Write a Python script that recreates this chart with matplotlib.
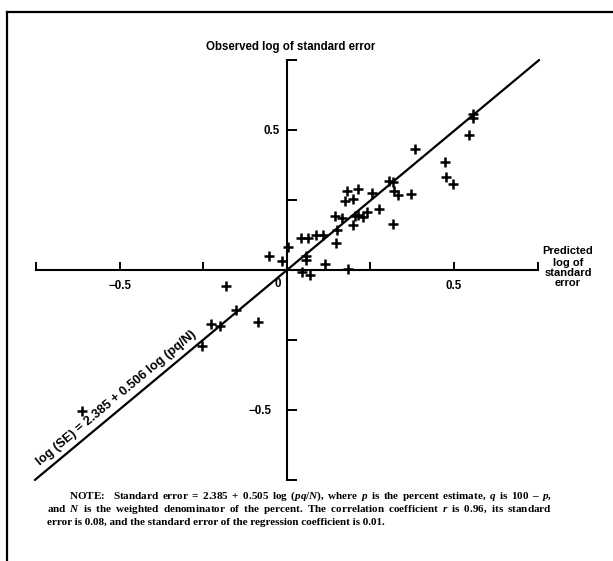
import numpy as np
import matplotlib
matplotlib.use("Agg")
import matplotlib.pyplot as plt
from matplotlib.lines import Line2D
from matplotlib import transforms

plt.rcParams["mathtext.fontset"] = "custom"
plt.rcParams["mathtext.it"] = "Liberation Serif:style=italic:weight=bold"
plt.rcParams["mathtext.rm"] = "Liberation Serif:weight=bold"
plt.rcParams["mathtext.bf"] = "Liberation Serif:weight=bold"

# ---------------- data ----------------
pred_x = [-0.053, -0.014, 0.002, 0.041, 0.062, 0.087, 0.107, 0.056, 0.056, 0.045,
          0.070, 0.115, 0.147, 0.150, 0.144, 0.166, 0.174, 0.198, 0.181, 0.213,
          0.254, 0.199, 0.204, 0.214, 0.229, 0.241, 0.276, 0.184, 0.317, 0.306,
          0.318, 0.320, 0.331, 0.370, 0.383, 0.556, 0.556, 0.546, 0.473, 0.477,
          0.498, -0.182, -0.153, -0.227, -0.200, -0.088, -0.254, -0.613]
obs_y = [0.050, 0.032, 0.083, 0.114, 0.115, 0.124, 0.124, 0.050, 0.036, -0.007,
         -0.019, 0.021, 0.095, 0.142, 0.194, 0.187, 0.246, 0.255, 0.283, 0.288,
         0.274, 0.162, 0.193, 0.195, 0.190, 0.207, 0.217, 0.004, 0.164, 0.319,
         0.314, 0.282, 0.267, 0.271, 0.433, 0.557, 0.544, 0.482, 0.386, 0.332,
         0.307, -0.056, -0.143, -0.193, -0.200, -0.187, -0.271, -0.502]
fit_x = np.array([-0.755, 0.755])
fit_y = np.array([-0.750, 0.750])

tick_vals = [-0.75, -0.5, -0.25, 0.25, 0.5, 0.75]
tick_text = ["", "\u22120.5", "", "", "0.5", ""]

title_text = "Observed log of standard error"
xlabel_lines = ["Predicted", "log of", "standard", "error"]
fit_label = "log (SE) = 2.385 + 0.506 log (pq/N)"
note_lines = [
    "NOTE:  Standard error = 2.385 + 0.505 log (*pq/N*), where *p* is the percent estimate, *q* is 100 \u2013 *p*,",
    "and *N* is the weighted denominator of the percent. The correlation coefficient *r* is 0.96, its standard",
    "error is 0.08, and the standard error of the regression coefficient is 0.01.",
]

# ---------------- figure ----------------
W, H = 613, 561
fig = plt.figure(figsize=(W / 100, H / 100), dpi=100)
fig.patch.set_facecolor("white")
ax = fig.add_axes([0, 0, 1, 1])
ax.set_facecolor("none")

X0, XS = 287.0, 334.0   # pixel of x=0, px per unit
Y0, YS = 270.0, 280.0
ax.set_xlim((0 - X0) / XS, (W - X0) / XS)
ax.set_ylim((Y0 - H) / YS, (Y0 - 0) / YS)

sans = ["Liberation Sans", "DejaVu Sans"]
serif = ["Liberation Serif", "DejaVu Serif"]

for s in ["top", "right"]:
    ax.spines[s].set_visible(False)
for s in ["left", "bottom"]:
    ax.spines[s].set_position(("data", 0))
    ax.spines[s].set_bounds(-0.75, 0.75)
    ax.spines[s].set_linewidth(1.5)
    ax.spines[s].set_color("black")

ax.set_xticks(tick_vals)
ax.set_xticklabels(tick_text)
ax.set_yticks(tick_vals)
ax.set_yticklabels(tick_text)
ax.tick_params(axis="x", direction="in", length=6, width=1.4, pad=7,
               labelsize=8.3, colors="black")
ax.tick_params(axis="y", direction="in", length=7, width=1.4, pad=5,
               labelsize=8.3, colors="black")
for lab in ax.get_xticklabels() + ax.get_yticklabels():
    lab.set_fontfamily(sans)
    lab.set_fontweight("bold")
# shift the lower y label a bit more to the left as in reference
ytk = ax.yaxis.get_major_ticks()
ytk[1].label1.set_transform(ytk[1].label1.get_transform() +
                            transforms.ScaledTranslation(-9 / 100, 0, fig.dpi_scale_trans))

# regression line and points
ax.plot(fit_x, fit_y, color="black", lw=1.6, solid_capstyle="round", zorder=3)
ax.plot(pred_x, obs_y, linestyle="none", marker="+", markersize=6.5,
        markeredgewidth=1.8, color="black", zorder=4)

# texts
ax.text((291 - X0) / XS, (Y0 - 47) / YS, title_text, ha="center", va="center",
        fontsize=8.3, fontweight="bold", family=sans)
ax.text((278 - X0) / XS, (Y0 - 284) / YS, "0", ha="center", va="center",
        fontsize=8.3, fontweight="bold", family=sans)
for txt, py in zip(xlabel_lines, [254, 265.5, 276, 286.5]):
    ax.text((568 - X0) / XS, (Y0 - py) / YS, txt, ha="center", va="baseline",
            fontsize=8.0, fontweight="bold", family=sans)
ax.text((116 - X0) / XS, (Y0 - 398) / YS, fit_label, ha="center", va="center",
        rotation=39.8, rotation_mode="anchor", fontsize=9.2, fontweight="bold",
        family=sans)

# frame border (left and top)
fig.add_artist(Line2D([7 / W, 7 / W], [0, 1 - 12 / H], color="black", lw=1.6,
                      transform=fig.transFigure))
fig.add_artist(Line2D([7 / W, 1], [1 - 12 / H, 1 - 12 / H], color="black", lw=1.6,
                      transform=fig.transFigure))

# ---------------- justified note (one text per line) ----------------
fig.canvas.draw()
renderer = fig.canvas.get_renderer()
ident = transforms.IdentityTransform()
NOTE_FS = 8.0


def word_markup(w):
    parts = w.split("*")
    out = ""
    for i, p in enumerate(parts):
        if not p:
            continue
        out += (r"$\mathit{%s}$" % p) if i % 2 == 1 else p
    return out


def build(line, k):
    raw = line.split(" ")
    words, gaps = [], []
    for w in raw:
        if w == "":
            if gaps:
                gaps[-1] += 1
            continue
        words.append(word_markup(w))
        gaps.append(1)
    s = ""
    for i, wd in enumerate(words):
        s += wd
        if i < len(words) - 1:
            g = gaps[i]
            s += " " * g
            if k is not None:
                s += r"$\hspace{%.4f}$" % (k * g)
    return s


def make(x, y, s):
    return fig.text(x, y, s, transform=ident, fontsize=NOTE_FS, fontweight="bold",
                    family=serif, ha="left", va="baseline")


def width(s):
    t = make(0, -100, s)
    w = t.get_window_extent(renderer).width
    t.remove()
    return w


layout = [(69, 552, True), (47, 552, True), (47, None, False)]
baselines = [499, 512, 525]
for line, (xs, xe, just), py in zip(note_lines, layout, baselines):
    if just:
        w0 = width(build(line, 0.0))
        w1 = width(build(line, 1.0))
        k = (xe - xs - w0) / (w1 - w0) if w1 != w0 else 0.0
        s = build(line, k)
    else:
        s = build(line, None)
    make(xs, H - py, s)

fig.savefig("out.png", dpi=100)
